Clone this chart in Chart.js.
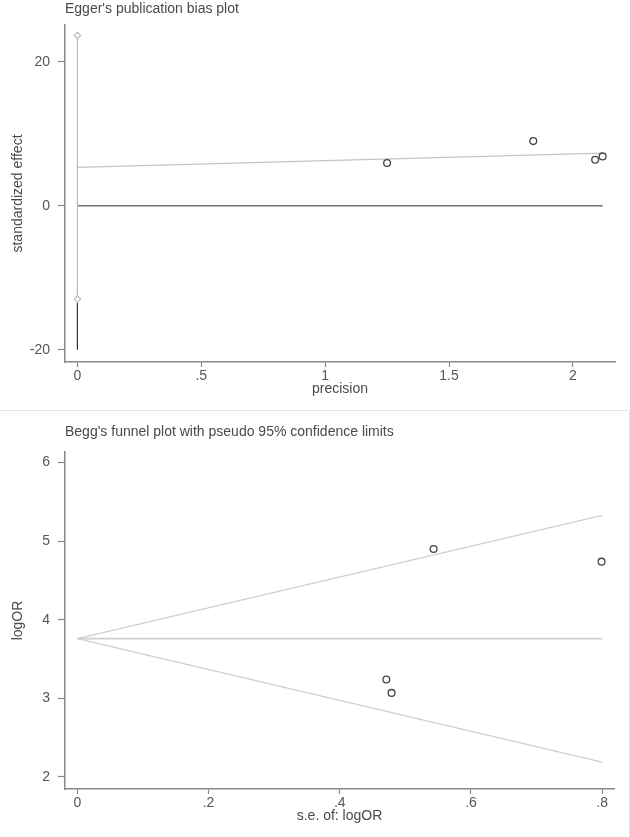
<!DOCTYPE html>
<html>
<head>
<meta charset="utf-8">
<script src="https://cdn.jsdelivr.net/npm/chart.js@4.4.1/dist/chart.umd.min.js"></script>
<style>
  html, body { margin: 0; padding: 0; background: #fff; }
  body { width: 630px; height: 837px; position: relative; overflow: hidden;
         font-family: "Liberation Sans", Arial, sans-serif; }
  .panel { position: absolute; left: 0; width: 630px; }
  #eggerPanel { top: 0; height: 410px; }
  #beggPanel { top: 410px; height: 427px; border-top: 1px solid #e4e4e4; box-sizing: border-box; }
  #beggPanel::after { content: ""; position: absolute; right: 0; top: 0; bottom: 0; border-right: 1px solid #e4e4e4; }
  .title { position: absolute; left: 65px; font-size: 14px; line-height: 16px; color: #4a4a4a; white-space: nowrap; }
  canvas { position: absolute; left: 0; top: 0; }
</style>
</head>
<body>
<div class="panel" id="eggerPanel">
  <canvas id="eggerChart" width="630" height="410"></canvas>
  <div class="title" style="top:0px">Egger's publication bias plot</div>
</div>
<div class="panel" id="beggPanel">
  <canvas id="beggChart" width="630" height="426"></canvas>
  <div class="title" style="top:12px">Begg's funnel plot with pseudo 95% confidence limits</div>
</div>
<script>
// Egger: precision vs standardized effect
const eggerPrecision = [1.25, 1.84, 2.09, 2.12];
const eggerEffect = [5.93, 8.98, 6.38, 6.85];
const eggerFitX = [0, 2.12];
const eggerFitY = [5.32, 7.32];       // regression line
const eggerZeroX = [0, 2.12];
const eggerCiY = [23.65, -12.96];     // intercept CI at precision 0
const eggerDarkY = [-13.5, -20];
const eggerXTicks = [0, 0.5, 1, 1.5, 2];
const eggerYTicks = [-20, 0, 20];

// Begg: s.e. of logOR vs logOR
const beggSe = [0.543, 0.799, 0.471, 0.479];
const beggLogOR = [4.90, 4.74, 3.24, 3.07];
const funnelSe = [0, 0.8];
const funnelCenter = [3.76, 3.76];
const funnelUpper = [3.76, 5.33];
const funnelLower = [3.76, 2.19];
const beggXTicks = [0, 0.2, 0.4, 0.6, 0.8];
const beggYTicks = [2, 3, 4, 5, 6];

Chart.defaults.font.family = '"Liberation Sans", Arial, sans-serif';
Chart.defaults.font.size = 14;
Chart.defaults.color = '#555';

// ตัด 0 นำหน้าออก แบบ Stata (.5, .2)
function stataLabel(v) {
    return String(v).replace(/^0\./, '.').replace(/^-0\./, '-.');
}

function pts(xs, ys) {
    return xs.map((x, i) => ({ x: x, y: ys[i] }));
}

function lineSet(data, color, width) {
    return { data: data, showLine: true, borderColor: color, borderWidth: width,
             pointRadius: 0, fill: false, order: 2 };
}

function circleSet(data) {
    return { data: data, showLine: false, pointStyle: 'circle', pointRadius: 3.4,
             pointBorderWidth: 1.3, pointBorderColor: '#444', pointBackgroundColor: 'rgba(255,255,255,0)', order: 0 };
}

function axes(xMin, xMax, xTicks, xTitle, yMin, yMax, yTicks, yTitle, xHeight) {
    return {
        x: {
            type: 'linear', min: xMin, max: xMax,
            afterBuildTicks: s => { s.ticks = xTicks.map(v => ({ value: v })); },
            afterFit: s => { s.height = xHeight; },
            ticks: { callback: stataLabel, padding: 1, maxRotation: 0, autoSkip: false },
            grid: { display: true, drawOnChartArea: false, drawTicks: true, tickLength: 5, tickColor: '#888', tickWidth: 1.2 },
            border: { display: true, color: '#888', width: 1.5 },
            title: { display: true, text: xTitle, color: '#4a4a4a', font: { size: 14 }, padding: { top: 0, bottom: 12 } }
        },
        y: {
            type: 'linear', min: yMin, max: yMax,
            afterBuildTicks: s => { s.ticks = yTicks.map(v => ({ value: v })); },
            afterFit: s => { s.width = 65; },
            ticks: { callback: stataLabel, padding: 8, autoSkip: false },
            grid: { display: true, drawOnChartArea: false, drawTicks: true, tickLength: 7, tickColor: '#888', tickWidth: 1.2 },
            border: { display: true, color: '#888', width: 1.5 },
            title: { display: true, text: yTitle, color: '#4a4a4a', font: { size: 14 }, padding: { top: 10, bottom: 0 } }
        }
    };
}

const commonPlugins = { legend: { display: false }, tooltip: { enabled: false }, title: { display: false } };

// กราฟ Egger
new Chart(document.getElementById('eggerChart'), {
    type: 'scatter',
    data: {
        datasets: [
            lineSet(pts(eggerFitX, eggerFitY), '#c4c4c4', 1.3),
            lineSet(pts(eggerZeroX, [0, 0]), '#6e6e6e', 1.3),
            lineSet(pts([0, 0], eggerDarkY), '#333', 1.2),
            {
                data: pts([0, 0], eggerCiY), showLine: true, borderColor: '#bdbdbd', borderWidth: 1.3,
                pointStyle: 'rectRot', pointRadius: 3.2, pointBorderWidth: 1.1,
                pointBorderColor: '#b5b5b5', pointBackgroundColor: '#fff', order: 1
            },
            circleSet(pts(eggerPrecision, eggerEffect))
        ]
    },
    options: {
        responsive: false, animation: false, clip: false,
        layout: { padding: { top: 25, right: 15, left: 0, bottom: 0 } },
        plugins: commonPlugins,
        scales: axes(-0.05, 2.17, eggerXTicks, 'precision', -21.7, 25.1, eggerYTicks, 'standardized effect', 48)
    }
});

// กราฟ Begg
new Chart(document.getElementById('beggChart'), {
    type: 'scatter',
    data: {
        datasets: [
            lineSet(pts(funnelSe, funnelUpper), '#cfcfcf', 1.3),
            lineSet(pts(funnelSe, funnelLower), '#cfcfcf', 1.3),
            lineSet(pts(funnelSe, funnelCenter), '#cfcfcf', 1.6),
            circleSet(pts(beggSe, beggLogOR))
        ]
    },
    options: {
        responsive: false, animation: false, clip: false,
        layout: { padding: { top: 41, right: 16, left: 0, bottom: 0 } },
        plugins: commonPlugins,
        scales: axes(-0.0188, 0.818, beggXTicks, 's.e. of: logOR', 1.847, 6.135, beggYTicks, 'logOR', 48)
    }
});
</script>
</body>
</html>
